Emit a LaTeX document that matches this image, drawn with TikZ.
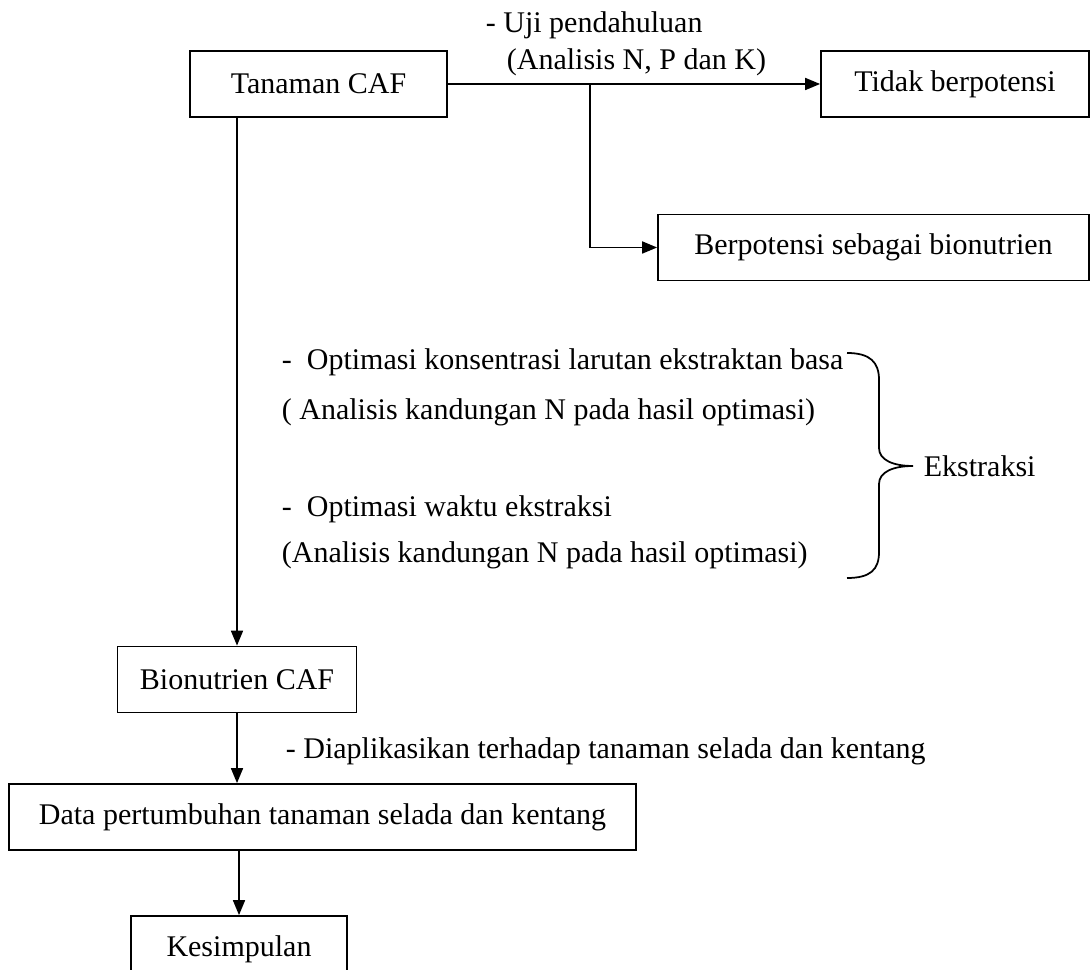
\documentclass[tikz,border=0pt,12pt]{standalone}
\usepackage{fontspec}
\setmainfont{Liberation Serif}
\usetikzlibrary{arrows.meta,calc}

\begin{document}
\begin{tikzpicture}[x=0.4pt,y=-0.4pt,line width=0.7pt,
  >={Triangle[length=6pt,width=4.8pt]},
  box/.style={draw,inner sep=0pt,minimum height=26.4pt},
  note/.style={inner sep=0pt,anchor=base west}]
\useasboundingbox (0,0) rectangle (1091,970);
% draw boxes
\node[box,minimum width=102.8pt] (tanaman) at (318.5,84) {Tanaman CAF};
\node[box,minimum width=107.2pt] (tidak) at (955,84) {Tidak berpotensi};
\node[box,minimum width=172.4pt] (berpotensi) at (873.5,247.5) {Berpotensi sebagai bionutrien};
\node[box,minimum width=95.6pt] (bionutrien) at (237,679.5) {Bionutrien CAF};
\node[box,minimum width=250.8pt] (data) at (322.5,817) {Data pertumbuhan tanaman selada dan kentang};
\node[box,minimum width=86.4pt] (kesimpulan) at (239,949) {Kesimpulan};
% draw texts
\node[note] (uji) at (485,33) {- Uji pendahuluan};
\node[note] (npk) at (506,70) {(Analisis N, P dan K)};
\node[note] (opt1) at (281,370) {-\ \ Optimasi konsentrasi larutan ekstraktan basa};
\node[note] (an1) at (281,420) {( Analisis kandungan N pada hasil optimasi)};
\node[note] (opt2) at (281,517) {-\ \ Optimasi waktu ekstraksi};
\node[note] (an2) at (281,563) {(Analisis kandungan N pada hasil optimasi)};
\node[note] (apl) at (285,758) {- Diaplikasikan terhadap tanaman selada dan kentang};
\node[anchor=west,inner sep=0pt] (ekstraksi) at (923,466) {Ekstraksi};
% draw arrows
\coordinate (split) at (590,84);
\draw[->] (tanaman.east) -- (tidak.west);
\draw[->] (split) |- (berpotensi.west);
\draw[->] (bionutrien.north |- tanaman.south) -- (bionutrien.north);
\draw[->] (bionutrien.south) -- (bionutrien.south |- data.north);
\draw[->] (kesimpulan.north |- data.south) -- (kesimpulan.north);
% draw brace
\draw (847,353) .. controls (870,353) and (879,362) .. (879,380) -- (879,448)
  .. controls (879,460) and (893,466) .. (913,466)
  .. controls (893,466) and (879,472) .. (879,484) -- (879,552)
  .. controls (879,570) and (870,578) .. (847,578);
\end{tikzpicture}
\end{document}
